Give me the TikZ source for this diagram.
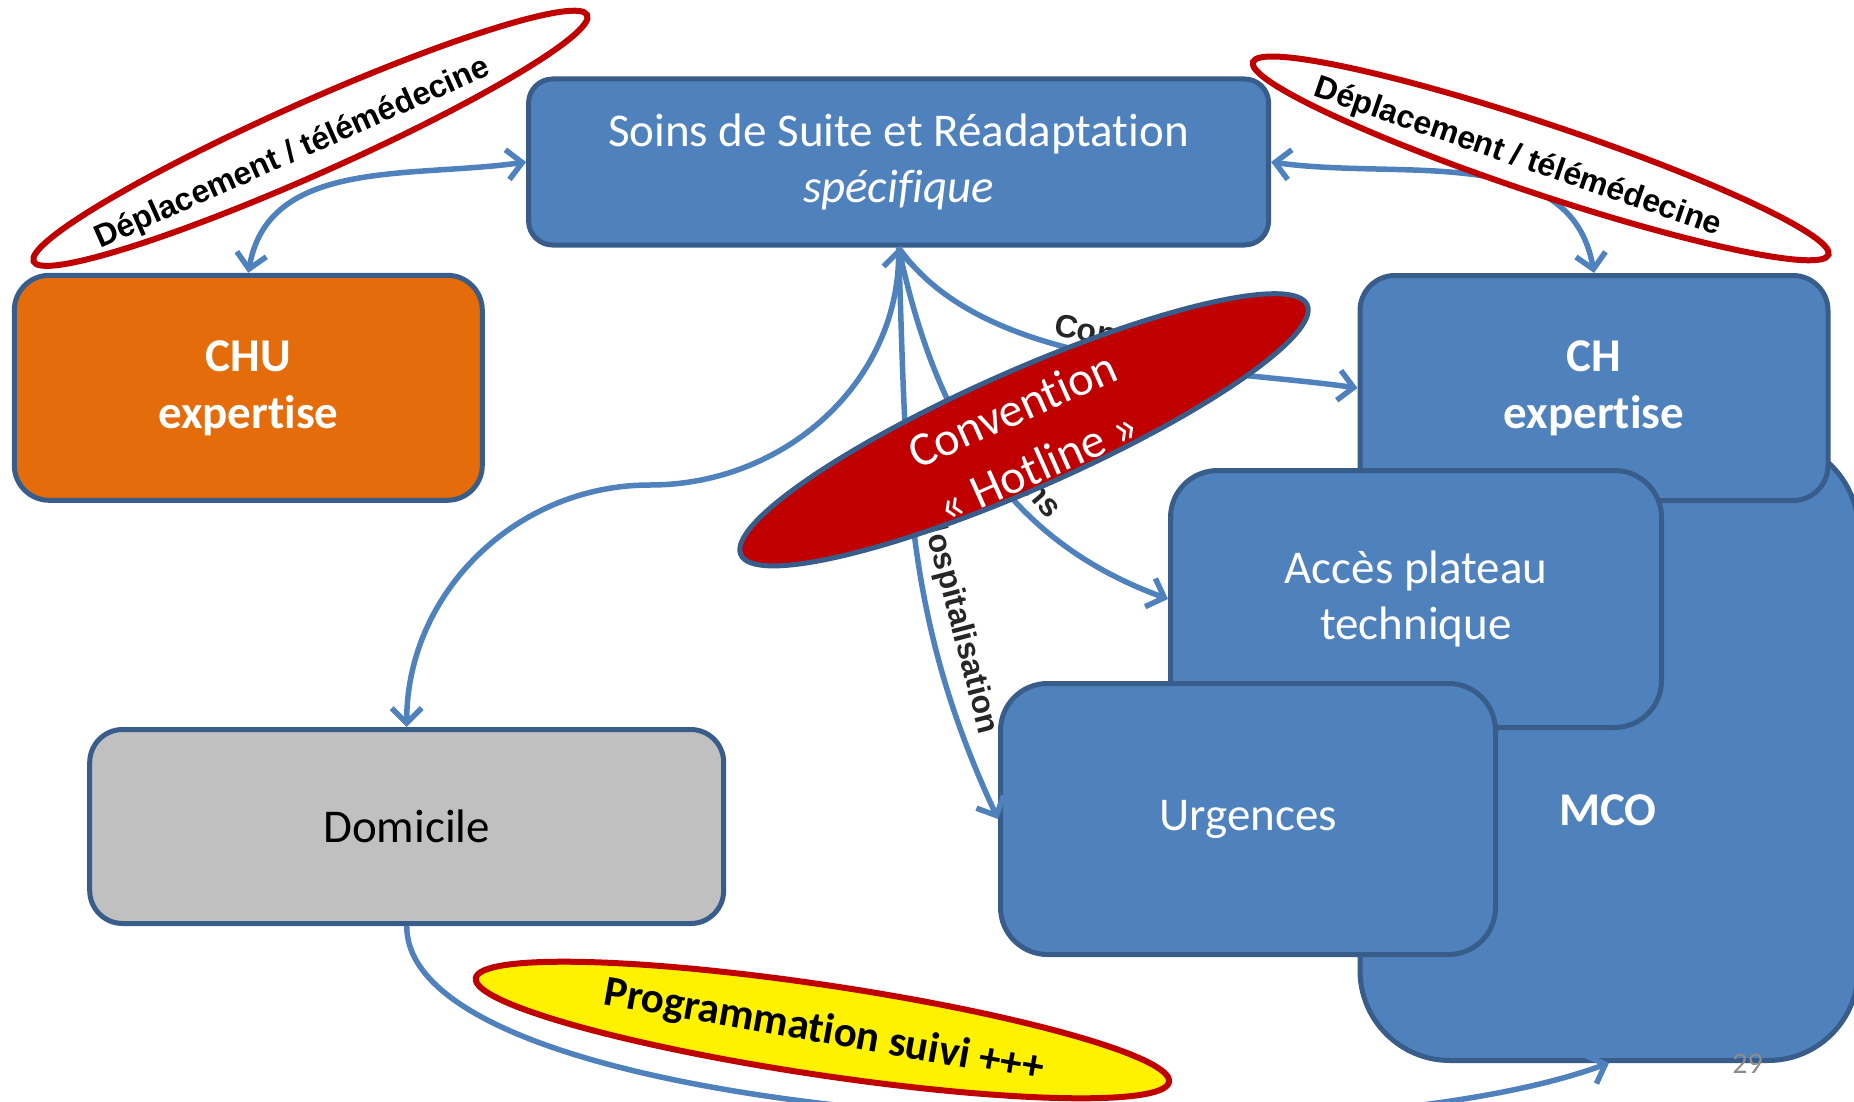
\documentclass[tikz,border=0pt]{standalone}
\usepackage{fontspec}
\setmainfont{Carlito}[Ligatures=NoCommon]
\newfontfamily\arialfont{Liberation Sans}
\usepackage{tikz}
\usetikzlibrary{arrows.meta, positioning, shapes.geometric}

\definecolor{boxblue}{HTML}{4F81BD}
\definecolor{boxline}{HTML}{385D8A}
\definecolor{chuorange}{HTML}{E46C0A}
\definecolor{domgray}{HTML}{C0C0C0}
\definecolor{hotred}{HTML}{C00000}
\definecolor{lblgray}{HTML}{262626}
\definecolor{pagegray}{HTML}{8C8C8C}

\begin{document}
\begin{tikzpicture}[x=1pt,y=1pt,
    >={Straight Barb[length=15pt,width=30pt]},
    bloc/.style={draw=boxline, line width=5pt, fill=boxblue, text=white,
      inner sep=0pt, align=center, font=\fontsize{47}{56}\selectfont},
    fleche/.style={draw=boxblue, line width=5.5pt},
    lbl/.style={inner sep=0pt, text=lblgray, font=\arialfont\bfseries\fontsize{32}{38}\selectfont},
    bulle/.style={ellipse, draw=hotred, line width=6pt, fill=white, inner sep=0pt},
    bulletxt/.style={inner sep=0pt, text=black, font=\arialfont\bfseries\fontsize{32}{38}\selectfont}]
  \useasboundingbox (0,0) rectangle (1854,-1102);

  % blocs MCO
  \node[bloc, rounded corners=90pt, minimum width=498pt, minimum height=621pt] (mco) at (1609,-750) {};
  \node[inner sep=0pt, text=white, font=\fontsize{47}{56}\selectfont\bfseries] (mcotxt) at (1608,-810) {MCO};
  \node[bloc, rounded corners=35pt, minimum width=468pt, minimum height=225pt,
    font=\fontsize{47}{57}\selectfont\bfseries] (ch) at (1594,-388) {CH\\expertise};
  \node[bloc, rounded corners=47pt, minimum width=491pt, minimum height=257pt] (acces) at (1416,-599) {Acc\`es plateau\\technique};
  \node[bloc, rounded corners=47pt, minimum width=495pt, minimum height=271pt] (urg) at (1248,-819) {Urgences};

  % autres blocs
  \node[bloc, rounded corners=24pt, minimum width=740pt, minimum height=166pt] (ssr) at (898.6,-162)
    {Soins de Suite et R\'eadaptation\\\textit{sp\'ecifique}};
  \node[bloc, fill=chuorange, rounded corners=35pt, minimum width=468pt, minimum height=225pt,
    font=\fontsize{47}{57}\selectfont\bfseries] (chu) at (248.3,-387.8) {CHU\\expertise};
  \node[bloc, fill=domgray, text=black, rounded corners=33pt, minimum width=634pt, minimum height=194pt] (dom) at (406.7,-826.5) {Domicile};

  % fleches
  \draw[fleche, <->] (chu.north) to[out=80, in=188] (ssr.west);
  \draw[fleche, <->] (ch.north) to[out=100, in=-8] (ssr.east);
  \coordinate (virage) at (650,-485);
  \draw[fleche, <->] (ssr.south) to[out=-90, in=0] (virage) to[out=180, in=90] (dom.north);
  \draw[fleche, ->] (ssr.south) to[out=-55, in=172, looseness=0.8] (ch.west);
  \draw[fleche, ->] (ssr.south) to[out=-78, in=160] (acces.west);
  \draw[fleche, ->] (ssr.south) to[out=-88, in=115] (urg.west);
  \draw[fleche, ->] (dom.south) .. controls +(0,-200) and +(-300,-110) .. (mco.south);

  \node[lbl, rotate=-10, anchor=base west] (lconv) at (1053,-335) {Convention};
  \node[lbl, rotate=-49, anchor=base east] (lexam) at (1048,-520) {Examens};
  \node[lbl, rotate=-75.4, anchor=base west] (lhosp) at (922,-513.5) {Hospitalisation};

  % bulles
  \node[bulle, minimum width=606pt, minimum height=72pt, rotate=24] (deplg) at (310.4,-138.3) {};
  \node[bulletxt, rotate=24] (tdeplg) at (292.6,-153.7) {D\'eplacement / t\'el\'em\'edecine};
  \node[bulle, minimum width=607pt, minimum height=70pt, rotate=-18.5] (depld) at (1540.7,-158.4) {};
  \node[bulletxt, rotate=-19] (tdepld) at (1517.6,-157.8) {D\'eplacement / t\'el\'em\'edecine};

  \node[ellipse, draw=boxline, line width=5pt, fill=hotred, inner sep=0pt,
    minimum width=619pt, minimum height=118pt, rotate=23.8] (hotline) at (1024,-429.8) {};
  \node[inner sep=0pt, text=white, align=center, rotate=24,
    font=\fontsize{48}{62}\selectfont] (thotline) at (1025,-437.5) {Convention\\« Hotline »};

  \node[bulle, fill=yellow, minimum width=701pt, minimum height=90pt, rotate=-8.5] (prog) at (822.4,-1030) {};
  \node[inner sep=0pt, rotate=-10, font=\fontsize{43}{50}\selectfont\bfseries] (tprog) at (824,-1031.6)
    {Programmation suivi +++};

  \node[inner sep=0pt, text=pagegray, font=\fontsize{30}{34}\selectfont] (numpage) at (1747.6,-1064) {29};
\end{tikzpicture}
\end{document}
